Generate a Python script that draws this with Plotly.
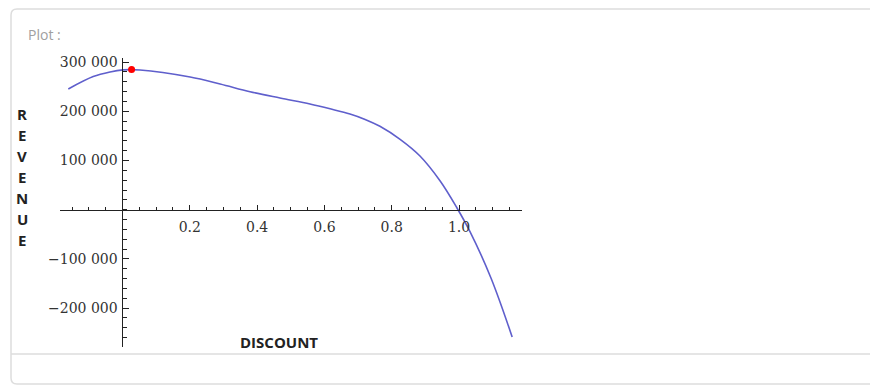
import plotly.graph_objects as go

# ---- data ----
discount = [-0.161, -0.087, -0.037, 0.0015, 0.052, 0.201, 0.290, 0.379, 0.468,
            0.557, 0.617, 0.676, 0.721, 0.765, 0.825, 0.884, 0.944, 0.994, 1.033,
            1.095, 1.158]
revenue = [245300, 270500, 280000, 284200, 284000, 269700, 255500, 239800, 227000,
           214800, 205000, 194500, 183500, 169500, 143000, 109100, 58300, 3500, -45000,
           -138800, -258700]
opt_discount = [0.027]
opt_revenue = [284700]

x_tickvals = [0.2, 0.4, 0.6, 0.8, 1.0]
x_ticktext = ["0.2", "0.4", "0.6", "0.8", "1.0"]
y_tickvals = [-200000, -100000, 100000, 200000, 300000]
y_ticktext = ["\u2212200 000", "\u2212100 000", "100 000", "200 000", "300 000"]

x_title = "DISCOUNT"
y_title = "REVENUE"
panel_label = "Plot :"

# ---- layout geometry (pixels) ----
W, H = 870, 387
L, R, T, B = 60, 522, 58, 347
xmin, xmax = -0.1857, 1.1872
ymin, ymax = -279000, 308300


def px_x(p):
    return (p - L) / (R - L)


def px_y(p):
    return (B - p) / (B - T)


fig = go.Figure()
fig.add_trace(go.Scatter(x=discount, y=revenue, mode="lines",
                         line=dict(color="#5f5fcc", width=1.6, shape="spline", smoothing=1.0),
                         hoverinfo="skip", showlegend=False))
fig.add_trace(go.Scatter(x=opt_discount, y=opt_revenue, mode="markers",
                         marker=dict(color="#ff0000", size=7), showlegend=False,
                         cliponaxis=False))

tickfont = dict(family="DejaVu Serif", size=14, color="#333333")

fig.update_layout(
    width=W, height=H,
    margin=dict(l=L, r=W - R, t=T, b=H - B, pad=0),
    paper_bgcolor="white", plot_bgcolor="rgba(0,0,0,0)",
    showlegend=False,
    xaxis=dict(range=[xmin, xmax], showgrid=False, zeroline=False,
               showline=True, linecolor="#222222", linewidth=1,
               anchor="free", position=(0 - ymin) / (ymax - ymin),
               tickvals=x_tickvals, ticktext=x_ticktext,
               ticks="inside", ticklen=5, tickcolor="#222222", tickwidth=1,
               ticklabelstandoff=4,
               minor=dict(tick0=0, dtick=0.05, ticks="inside", ticklen=3,
                          tickcolor="#222222", tickwidth=1),
               tickfont=tickfont),
    yaxis=dict(range=[ymin, ymax], showgrid=False, zeroline=False,
               showline=True, linecolor="#222222", linewidth=1,
               anchor="free", position=(0 - xmin) / (xmax - xmin),
               tickvals=y_tickvals, ticktext=y_ticktext,
               ticks="inside", ticklen=6, tickcolor="#222222", tickwidth=1,
               ticklabelstandoff=2,
               minor=dict(tick0=0, dtick=20000, ticks="inside", ticklen=4,
                          tickcolor="#222222", tickwidth=1),
               tickfont=tickfont),
)

# card frame (rounded) and separator
x0, y0, x1, y1, r = px_x(11), px_y(9), px_x(880), px_y(384), 6 / (R - L)
ry = 6 / (B - T)
path = (f"M {x0 + r} {y0} L {x1} {y0} L {x1} {y1} L {x0 + r} {y1} "
        f"Q {x0} {y1} {x0} {y1 + ry} L {x0} {y0 - ry} Q {x0} {y0} {x0 + r} {y0} Z")
fig.add_shape(type="path", path=path, xref="paper", yref="paper",
              line=dict(color="#dddddd", width=1.5), layer="below")
fig.add_shape(type="line", xref="paper", yref="paper",
              x0=px_x(11), x1=px_x(880), y0=px_y(354), y1=px_y(354),
              line=dict(color="#dddddd", width=1.5), layer="below")

# labels
fig.add_annotation(text=panel_label, xref="paper", yref="paper",
                   x=px_x(26), y=px_y(35), xanchor="left", yanchor="middle",
                   showarrow=False, font=dict(family="Open Sans", size=14, color="#a0a0a0"))
fig.add_annotation(text=f"<b>{x_title}</b>", xref="paper", yref="paper",
                   x=px_x(279), y=px_y(342), xanchor="center", yanchor="middle",
                   showarrow=False, font=dict(family="Open Sans", size=15, color="#222222"))
for i, ch in enumerate(y_title):
    fig.add_annotation(text=f"<b>{ch}</b>", xref="paper", yref="paper",
                       x=px_x(22), y=px_y(114 + i * 21), xanchor="center", yanchor="middle",
                       showarrow=False, font=dict(family="Open Sans", size=15, color="#222222"))

fig.write_html("out.html")
